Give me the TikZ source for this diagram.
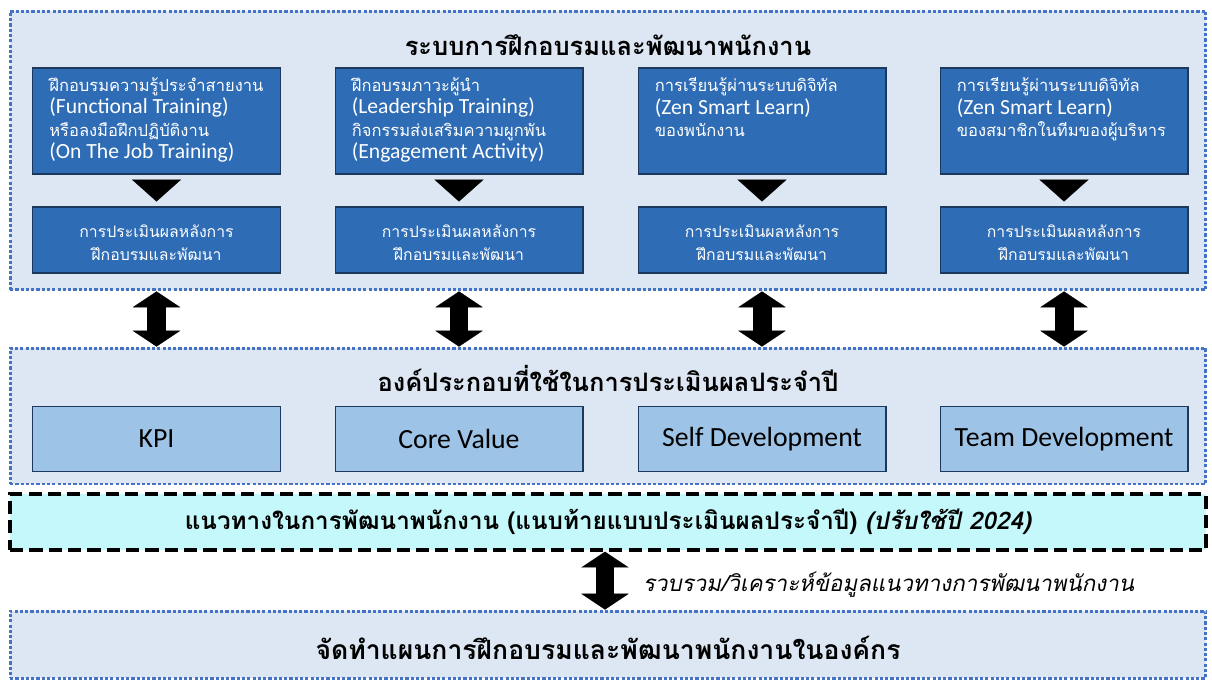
\documentclass[tikz,border=0pt]{standalone}
\usepackage{fontspec}
\setmainfont[Script=Thai]{Loma}
\newfontfamily\thaislant[Script=Thai,FakeSlant=0.2]{Loma}
\newfontfamily\en{Carlito}
\usetikzlibrary{calc}
\usetikzlibrary{arrows.meta}

\definecolor{panelfill}{RGB}{221,231,243}
\definecolor{panelline}{RGB}{68,114,196}
\definecolor{darkfill}{RGB}{46,108,182}
\definecolor{darkline}{RGB}{28,56,92}
\definecolor{lightfill}{RGB}{157,195,230}
\definecolor{cyanfill}{RGB}{196,248,250}

\tikzset{
    panel/.style={draw=panelline, fill=panelfill, line width=1.7pt, dash pattern=on 1.8pt off 1.2pt,
        minimum width=23.92cm, inner sep=0pt},
    darkbox/.style={draw=darkline, fill=darkfill, line width=0.6pt, minimum width=4.96cm, inner sep=0pt},
    lightbox/.style={draw=darkline, fill=lightfill, line width=0.6pt, minimum width=4.96cm,
        minimum height=1.3cm, font=\en\fontsize{15.8}{18}\selectfont},
    boxtext/.style={text=white, align=left, inner sep=0pt, font=\fontsize{9.4}{12.7}\selectfont},
    evaltext/.style={text=white, align=center, font=\fontsize{9}{13}\selectfont},
    heading/.style={font=\bfseries\fontsize{14.5}{16}\selectfont},
    dbl/.style={line width=10.8pt, {Triangle[length=9pt,width=27pt,line width=0.1pt]}-{Triangle[length=9pt,width=27pt,line width=0.1pt]}},
    tri/.style={line width=0.4pt, -{Triangle[length=12.5pt,width=28pt,line width=0.1pt]}}
    }
\newcommand{\enline}[1]{{\en\fontsize{12.3}{12.7}\selectfont #1}}

\begin{document}
\begin{tikzpicture}[x=0.02cm,y=-0.02cm]
    \useasboundingbox (0,0) rectangle (1212,681);

    % training system
    \node[panel, minimum height=5.58cm] (sys) at (608,150.5) {};
    \node[heading] (systitle) at (608,45) {ระบบการฝึกอบรมและพัฒนาพนักงาน};

    \node[darkbox, minimum height=2.12cm] (trainA) at (156.5,121) {};
    \node[darkbox, minimum height=2.12cm] (trainB) at (459,121) {};
    \node[darkbox, minimum height=2.12cm] (trainC) at (762,121) {};
    \node[darkbox, minimum height=2.12cm] (trainD) at (1064,121) {};

    \node[boxtext, anchor=north west] (txtA) at ($(trainA.north west)+(17,10)$)
        {ฝึกอบรมความรู้ประจำสายงาน\\\enline{(Functional Training)}\\หรือลงมือฝึกปฏิบัติงาน\\\enline{(On The Job Training)}};
    \node[boxtext, anchor=north west] (txtB) at ($(trainB.north west)+(17,10)$)
        {ฝึกอบรมภาวะผู้นำ\\\enline{(Leadership Training)}\\กิจกรรมส่งเสริมความผูกพัน\\\enline{(Engagement Activity)}};
    \node[boxtext, anchor=north west] (txtC) at ($(trainC.north west)+(17,10)$)
        {การเรียนรู้ผ่านระบบดิจิทัล\\\enline{(Zen Smart Learn)}\\ของพนักงาน};
    \node[boxtext, anchor=north west] (txtD) at ($(trainD.north west)+(17,10)$)
        {การเรียนรู้ผ่านระบบดิจิทัล\\\enline{(Zen Smart Learn)}\\ของสมาชิกในทีมของผู้บริหาร};

    \foreach \k/\x in {A/156.5,B/459,C/762,D/1064}{
        \node[darkbox, minimum height=1.32cm] (eval\k) at (\x,240) {};
        \node[evaltext] at ($(eval\k)+(0,3)$) {การประเมินผลหลังการ\\ฝึกอบรมและพัฒนา};
        \draw[tri] ($(train\k.south)+(0,6)$) -- ($(eval\k.north)+(0,-5)$);
    }

    % annual appraisal
    \node[panel, minimum height=2.72cm] (appr) at (608,416) {};
    \node[heading] (apprtitle) at (608,378) {องค์ประกอบที่ใช้ในการประเมินผลประจำปี};
    \node[lightbox] (kpi) at (156.5,439) {KPI};
    \node[lightbox] (core) at (459,439) {Core Value};
    \node[lightbox] (self) at (762,439) {Self Development};
    \node[lightbox] (team) at (1064,439) {Team Development};

    \foreach \k in {A,B,C,D}
        \draw[dbl] (sys.south -| train\k) -- (appr.north -| train\k);

    % guideline
    \node[draw, fill=cyanfill, line width=1.9pt, dash pattern=on 7.5pt off 3.5pt,
        minimum width=23.92cm, minimum height=1.12cm, font=\bfseries\fontsize{13.8}{15}\selectfont]
        (guide) at (608,522) {แนวทางในการพัฒนาพนักงาน (แนบท้ายแบบประเมินผลประจำปี) {\thaislant(ปรับใช้ปี 2024)}};

    % plan
    \node[panel, minimum height=1.34cm] (plan) at (608,644.5) {};
    \node[heading, font=\bfseries\fontsize{15.1}{17}\selectfont] (plantitle) at (608,648)
        {จัดทำแผนการฝึกอบรมและพัฒนาพนักงานในองค์กร};

    \coordinate (mid) at (605,0);
    \draw[dbl] (guide.south -| mid) -- (plan.north -| mid);
    \node[anchor=west, font=\thaislant\fontsize{12.7}{14}\selectfont] (collect) at (637,585)
        {รวบรวม/วิเคราะห์ข้อมูลแนวทางการพัฒนาพนักงาน};
\end{tikzpicture}
\end{document}
